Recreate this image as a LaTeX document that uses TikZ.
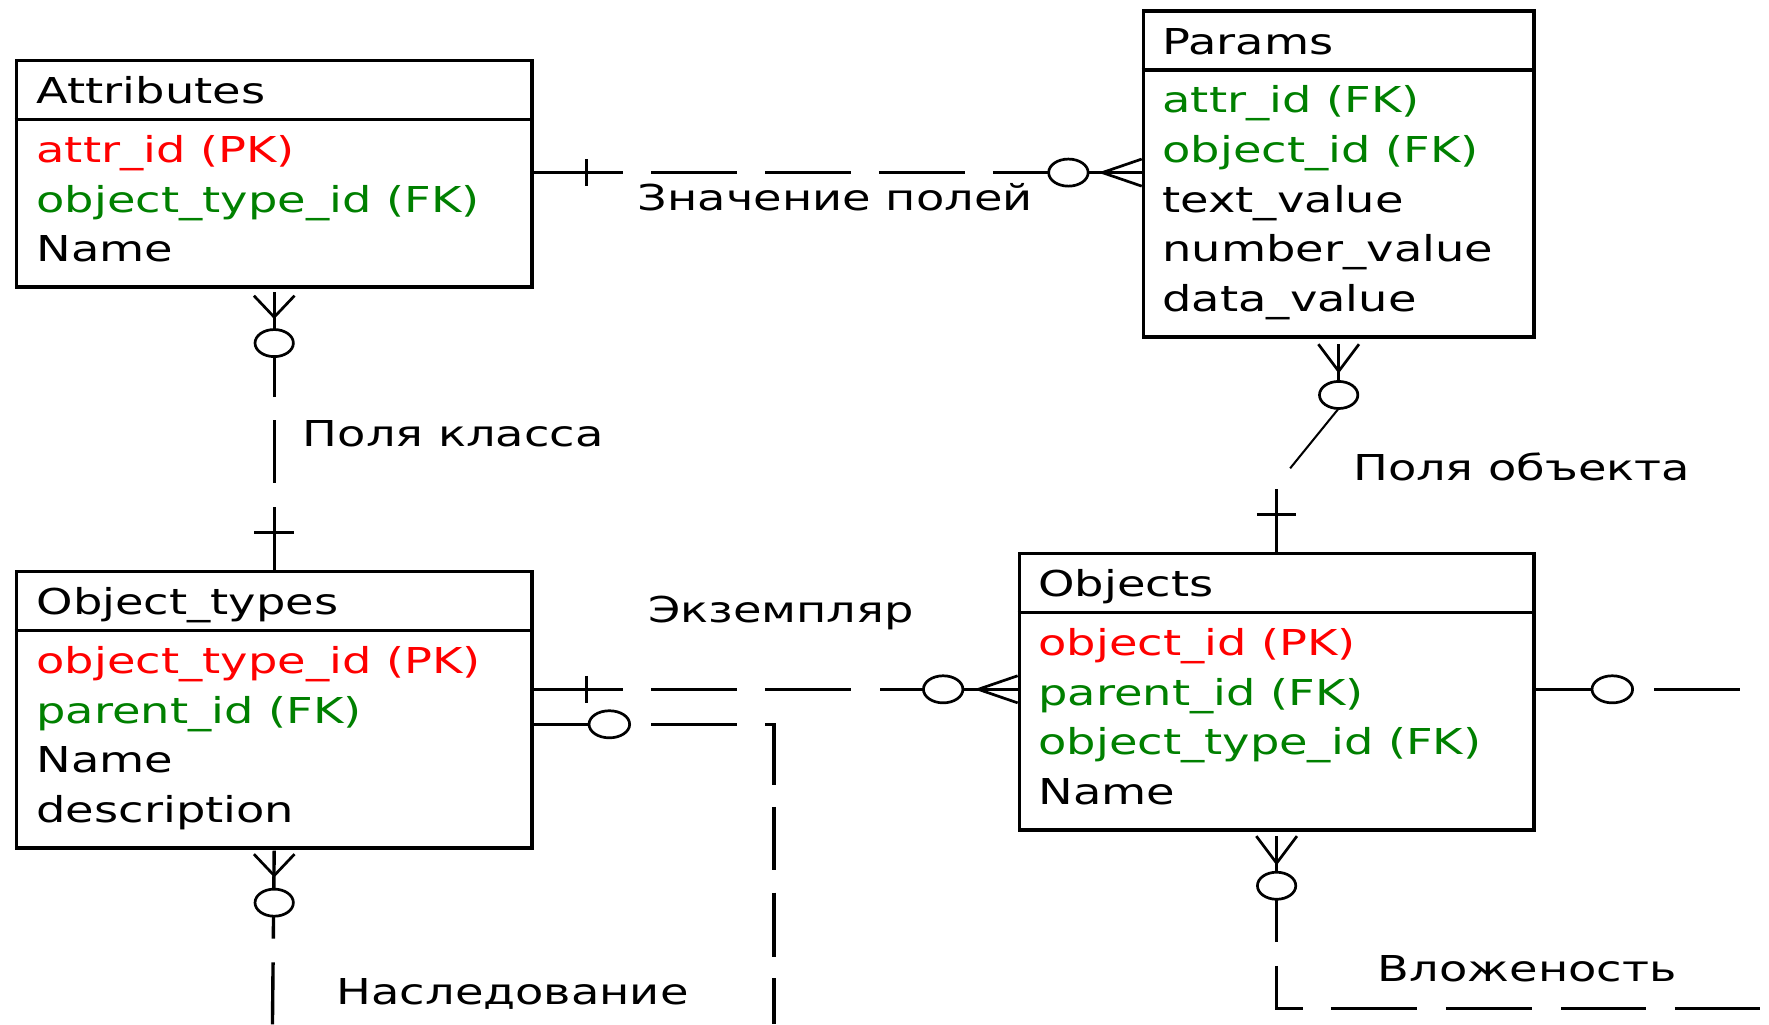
\documentclass[tikz,border=0pt]{standalone}
\usepackage{fontspec}
\setmainfont{DejaVu Sans}[FakeStretch=1.3]
\usetikzlibrary{calc}
\definecolor{pkred}{RGB}{255,0,0}
\definecolor{fkgreen}{RGB}{0,128,0}
\begin{document}
\begin{tikzpicture}[x=0.5pt,y=-0.5pt,
  box/.style={draw, line width=1.55pt, inner sep=0pt, anchor=north west},
  divider/.style={line width=1.55pt},
  txt/.style={anchor=base west, inner sep=0pt, font=\fontsize{15.8}{19}\selectfont},
  pk/.style={txt, text=pkred},
  fk/.style={txt, text=fkgreen},
  rel/.style={line width=1.5pt},
  thinrel/.style={line width=0.9pt},
  crow/.style={line width=1.2pt},
  opt/.style={line width=1.2pt, fill=white}]
\path[use as bounding box] (0,0) rectangle (1568,908);
\fill[white] (0,0) rectangle (1568,908);

% ---------- Attributes
\node[box, minimum width=228.5pt, minimum height=100.5pt] (attr) at (13,52) {};
\draw[divider] ($(attr.north west)+(0,54)$) -- ($(attr.north east)+(0,54)$);
\node[txt] (attrT) at (32,92) {Attributes};
\node[pk] (attr1) at (32,144) {attr\_id (PK)};
\node[fk] (attr2) at (32,188) {object\_type\_id (FK)};
\node[txt] (attr3) at (32,232) {Name};

% ---------- Params
\node[box, minimum width=173pt, minimum height=144.5pt] (params) at (1012,8) {};
\draw[divider] ($(params.north west)+(0,54)$) -- ($(params.north east)+(0,54)$);
\node[txt] (parT) at (1030,48) {Params};
\node[fk] (par1) at (1030,100) {attr\_id (FK)};
\node[fk] (par2) at (1030,144) {object\_id (FK)};
\node[txt] (par3) at (1030,188) {text\_value};
\node[txt] (par4) at (1030,232) {number\_value};
\node[txt] (par5) at (1030,276) {data\_value};

% ---------- Object_types
\node[box, minimum width=228.5pt, minimum height=122.5pt] (ot) at (13,505) {};
\draw[divider] ($(ot.north west)+(0,54)$) -- ($(ot.north east)+(0,54)$);
\node[txt] (otT) at (32,545) {Object\_types};
\node[pk] (ot1) at (32,597) {object\_type\_id (PK)};
\node[fk] (ot2) at (32,641) {parent\_id (FK)};
\node[txt] (ot3) at (32,685) {Name};
\node[txt] (ot4) at (32,729) {description};

% ---------- Objects
\node[box, minimum width=228pt, minimum height=122.5pt] (objects) at (902,489) {};
\draw[divider] ($(objects.north west)+(0,54)$) -- ($(objects.north east)+(0,54)$);
\node[txt] (objT) at (920,529) {Objects};
\node[pk] (obj1) at (920,581) {object\_id (PK)};
\node[fk] (obj2) at (920,625) {parent\_id (FK)};
\node[fk] (obj3) at (920,669) {object\_type\_id (FK)};
\node[txt] (obj4) at (920,713) {Name};

% ---------- 1: Attributes - Params
\draw[rel, dash pattern=on 39.5pt off 12.5pt on 38pt off 12.5pt on 38pt off 12.5pt on 38pt off 12.5pt on 100pt]
  ($(attr.north east)+(0,101)$) coordinate (r1a) -- ($(params.north west)+(0,145)$) coordinate (r1b);
\draw[rel] ($(r1a)+(47,-12)$) -- ++(0,24);
\draw[opt] ($(r1b)+(-65,0)$) ellipse [x radius=8.75pt, y radius=6pt];
\draw[crow] ($(r1b)+(-35,0)$) -- ($(r1b)+(0,-12)$) ($(r1b)+(-35,0)$) -- ($(r1b)+(0,12)$);
\node[txt] (lab1) at (565,187) {Значение полей};

% ---------- 2: Attributes - Object_types
\draw[rel, dash pattern=on 28pt off 10.5pt on 28pt off 10pt on 46.5pt off 20pt] (ot.north) -- (attr.south);
\draw[crow] ($(attr.south)+(0,25)$) -- ($(attr.south)+(-18,6)$) ($(attr.south)+(0,25)$) -- ($(attr.south)+(18,6)$);
\draw[opt] ($(attr.south)+(0,48)$) ellipse [x radius=8.5pt, y radius=6pt];
\draw[rel] ($(ot.north)+(-17.5,-33)$) -- ++(35,0);
\node[txt] (lab2) at (268,396) {Поля класса};

% ---------- 3: Params - Objects
\draw[rel] (objects.north) -- ++(0,-56) coordinate (r3a);
\draw[rel] ($(params.south)+(0,5)$) -- ++(0,45);
\draw[thinrel] ($(params.south)+(0,62)$) -- ++(-43,53) coordinate (r3b);
\draw[crow] ($(params.south)+(0,29)$) -- ($(params.south)+(-18,5)$) ($(params.south)+(0,29)$) -- ($(params.south)+(18,5)$);
\draw[opt] ($(params.south)+(0,50)$) ellipse [x radius=8.5pt, y radius=6pt];
\draw[rel] ($(objects.north)+(-17.5,-33)$) -- ++(35,0);
\node[txt] (lab3) at (1199,426) {Поля объекта};

% ---------- 4: Object_types - Objects
\draw[rel, dash pattern=on 39.5pt off 12.5pt on 38pt off 12.5pt on 38pt off 13pt on 100pt]
  ($(ot.north east)+(0,106)$) coordinate (r4a) -- ($(objects.north west)+(0,122)$) coordinate (r4b);
\draw[rel] ($(r4a)+(47,-12)$) -- ++(0,24);
\draw[opt] ($(r4b)+(-66,0)$) ellipse [x radius=8.75pt, y radius=6pt];
\draw[crow] ($(r4b)+(-35,0)$) -- ($(r4b)+(0,-12)$) ($(r4b)+(-35,0)$) -- ($(r4b)+(0,12)$);
\node[txt] (lab4) at (574,552) {Экземпляр};

% ---------- 5: Object_types self (Наследование)
\coordinate (n1) at (686,908);
\coordinate (n2) at (241.5,908);
\draw[rel, dash pattern=on 43pt off 9pt on 38pt off 12.5pt on 31pt off 9.5pt on 28pt off 10pt on 28.5pt off 9.5pt on 100pt]
  ($(ot.north east)+(0,137)$) coordinate (r5a) -| (n1);
\draw[opt] ($(r5a)+(67,0)$) ellipse [x radius=9pt, y radius=6pt];
\draw[rel, dash pattern=on 27.5pt off 10.5pt on 39pt off 20pt] (n2) -- (ot.south);
\draw[crow] ($(ot.south)+(0,23)$) -- ($(ot.south)+(-18,4)$) ($(ot.south)+(0,23)$) -- ($(ot.south)+(18,4)$);
\draw[opt] ($(ot.south)+(0,47)$) ellipse [x radius=8.5pt, y radius=6pt];
\node[txt] (lab5) at (298,890) {Наследование};

% ---------- 6: Objects self (Вложеность)
\coordinate (v1) at (1568,611);
\coordinate (v2) at (1568,894);
\draw[rel, dash pattern=on 43pt off 9.5pt on 38pt off 13pt on 50pt]
  ($(objects.north east)+(0,122)$) coordinate (r6a) -- (v1);
\draw[opt] ($(r6a)+(68,0)$) ellipse [x radius=9pt, y radius=6pt];
\draw[rel, dash pattern=on 47pt off 10.5pt on 30.5pt off 12.5pt on 38pt off 13pt on 38pt off 13pt on 37.5pt off 13pt on 37.5pt off 20pt]
  ($(objects.south)+(0,4)$) |- (v2);
\draw[crow] ($(objects.south)+(0,28)$) -- ($(objects.south)+(-18,4)$) ($(objects.south)+(0,28)$) -- ($(objects.south)+(18,4)$);
\draw[opt] ($(objects.south)+(0,48)$) ellipse [x radius=8.5pt, y radius=6pt];
\node[txt] (lab6) at (1221,870) {Вложеность};
\end{tikzpicture}
\end{document}
